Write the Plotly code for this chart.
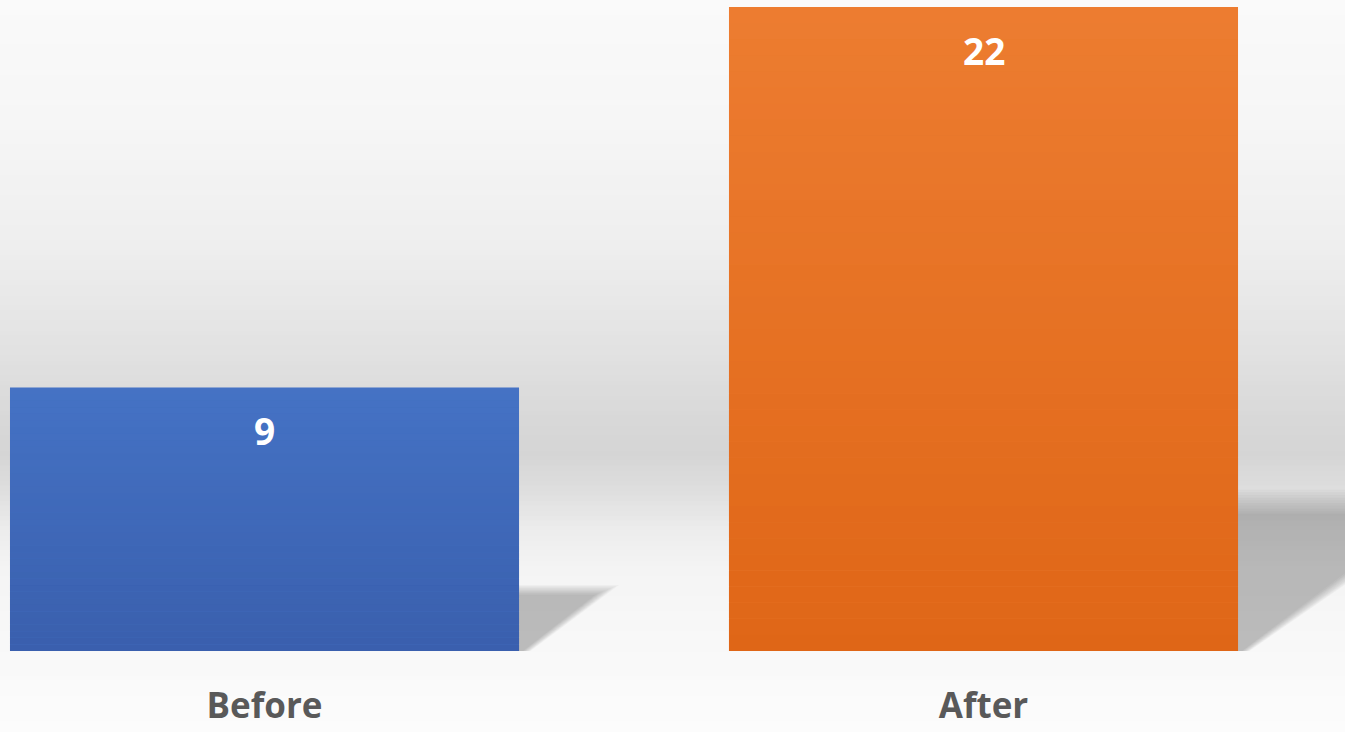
import plotly.graph_objects as go

# ---- data ----
categories = ["Before", "After"]
values = [9, 22]
bar_top_colors = ["#4573C5", "#ED7D31"]
bar_bottom_colors = ["#3A5FAD", "#DF6617"]

# ---- geometry / style ----
W, H = 1345, 732
M_B = 81
plot_h = H - M_B
bar_width = 0.708
x_range = [-0.3679, 1.5028]
y_range = [0, 22.24]

fig = go.Figure()
fig.add_trace(go.Bar(
    x=categories, y=values, width=bar_width,
    marker=dict(color=bar_top_colors, line=dict(width=0)),
    hoverinfo="skip", showlegend=False,
))

shapes = []

# background vertical gradient (pixel-y, gray level)
stops = [(0, 250), (120, 246), (250, 238), (350, 226), (420, 216), (455, 213),
         (490, 222), (530, 236), (570, 244), (640, 248), (732, 252)]
n_bands = 146
for k in range(n_bands):
    y0p = H * k / n_bands
    y1p = H * (k + 1) / n_bands
    ym = (y0p + y1p) / 2
    for j in range(len(stops) - 1):
        if stops[j][0] <= ym <= stops[j + 1][0]:
            t = (ym - stops[j][0]) / (stops[j + 1][0] - stops[j][0])
            g = stops[j][1] + t * (stops[j + 1][1] - stops[j][1])
            break
    g = int(round(g))
    col = f"rgb({g},{g},{g})"
    shapes.append(dict(type="rect", xref="paper", yref="paper",
                       x0=0, x1=1,
                       y0=(plot_h - y1p) / plot_h - 0.001,
                       y1=(plot_h - y0p) / plot_h + 0.001,
                       fillcolor=col, line=dict(width=0), layer="below"))

# shadows behind bars (soft, layered)
n_sh = 10
for i, v in enumerate(values):
    xr = i + bar_width / 2
    h = 0.232 * v
    dx = 0.0138 * v
    for L in range(n_sh):
        s = L / n_sh
        top = h * (1.08 - 0.18 * s)
        right = xr + dx * (1.12 - 0.3 * s)
        bot_x = xr + 0.012 * (1 - s) + 0.004
        path = (f"M {xr - 0.01},0 L {xr - 0.01},{top} L {right},{top} "
                f"L {bot_x},0 Z")
        shapes.append(dict(type="path", xref="x", yref="y", path=path,
                           fillcolor="rgba(60,60,60,0.034)",
                           line=dict(width=0), layer="below"))

# vertical gradient over bars
n_g = 40
for i, v in enumerate(values):
    x0 = i - bar_width / 2
    x1 = i + bar_width / 2
    for k in range(n_g):
        y0 = v * k / n_g
        y1 = v * (k + 1) / n_g
        op = 1 - (k + 0.5) / n_g
        shapes.append(dict(type="rect", xref="x", yref="y",
                           x0=x0, x1=x1, y0=y0, y1=y1 + 0.001,
                           fillcolor=bar_bottom_colors[i], opacity=op,
                           line=dict(width=0), layer="above"))

annotations = []
for i, v in enumerate(values):
    annotations.append(dict(x=categories[i], y=v, text=f"<b>{v}</b>",
                            showarrow=False, yanchor="middle", yshift=-43,
                            font=dict(family="Open Sans", size=37,
                                      color="white")))

fig.update_layout(
    width=W, height=H,
    margin=dict(l=0, r=0, t=0, b=M_B, pad=0, autoexpand=False),
    paper_bgcolor="rgb(252,252,252)",
    plot_bgcolor="rgba(0,0,0,0)",
    shapes=shapes,
    annotations=annotations,
    xaxis=dict(range=x_range, showgrid=False, zeroline=False, showline=False,
               ticks="", ticklabelstandoff=31, automargin=False,
               tickfont=dict(family="Open Sans", size=35, color="#595959",
                             weight="bold")),
    yaxis=dict(range=y_range, visible=False, showgrid=False, zeroline=False,
               automargin=False),
    showlegend=False,
)

fig.write_html(
    "out.html",
    config={"displayModeBar": False},
    post_script="document.body.style.margin='0';document.body.style.overflow='hidden';",
)
